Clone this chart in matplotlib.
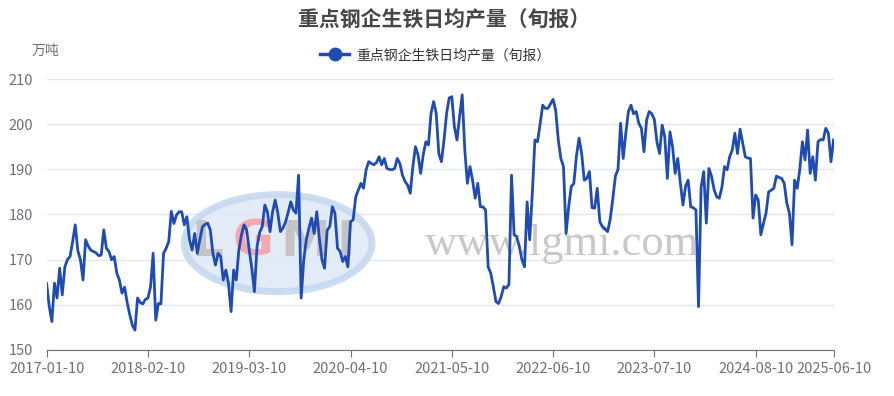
import matplotlib
matplotlib.use('Agg')
import matplotlib.pyplot as plt
from matplotlib.lines import Line2D
from matplotlib.patches import Ellipse
import numpy as np
import pandas as pd

plt.rcParams['font.family'] = ['Noto Sans CJK SC', 'DejaVu Sans']

title = '重点钢企生铁日均产量（旬报）'
series_name = '重点钢企生铁日均产量（旬报）'
unit = '万吨'

# 旬度数据, 2017-01-10 起
values = [
    164.7, 159.6, 156.3, 164.8, 161.5, 168.1, 162.2, 168.4, 170.0, 170.7,
    174.0, 177.7, 172.0, 170.0, 165.5, 174.4, 173.0, 172.1, 171.8, 171.5,
    170.9, 171.0, 176.6, 172.5, 171.8, 170.0, 170.7, 167.0, 165.5, 162.6,
    163.9, 160.5, 157.8, 155.5, 154.4, 161.5, 160.5, 160.2, 161.2, 161.5,
    164.0, 171.4, 156.6, 160.3, 160.2, 171.4, 172.5, 174.0, 180.7, 178.0,
    179.9, 180.6, 180.6, 177.7, 179.5, 174.4, 172.1, 175.8, 171.4, 174.5,
    177.3, 177.8, 178.1, 176.6, 171.4, 168.8, 171.4, 170.7, 165.5, 167.7,
    164.8, 158.5, 167.7, 165.5, 172.1, 175.5, 177.7, 176.6, 172.1, 168.0,
    162.9, 172.9, 176.0, 177.3, 182.1, 180.6, 176.2, 180.6, 183.2, 180.3,
    176.2, 177.0, 178.4, 180.5, 182.8, 181.0, 180.3, 188.7, 161.5, 170.0,
    174.5, 177.0, 179.2, 175.8, 180.6, 174.7, 170.0, 168.1, 176.5, 177.3,
    181.7, 180.3, 172.5, 171.8, 169.6, 170.7, 168.4, 178.4, 178.8, 183.9,
    185.4, 186.9, 185.8, 189.9, 191.7, 191.3, 191.0, 191.5, 192.8, 191.0,
    192.4, 190.2, 190.0, 189.9, 190.2, 192.4, 191.3, 188.7, 187.3, 186.5,
    184.7, 190.6, 195.0, 193.2, 189.1, 193.2, 196.1, 195.4, 202.4, 205.0,
    202.4, 193.5, 191.7, 196.5, 202.4, 205.8, 206.1, 199.4, 196.5, 201.7,
    206.5, 194.3, 186.9, 190.6, 187.6, 183.6, 186.9, 181.7, 181.7, 181.0,
    168.4, 167.0, 164.0, 160.7, 160.3, 161.8, 164.0, 163.7, 164.5, 188.7,
    175.5, 175.1, 172.9, 170.0, 168.4, 182.8, 174.4, 184.7, 196.5, 196.1,
    200.0, 204.2, 203.5, 203.5, 204.5, 205.5, 203.1, 196.5, 192.4, 190.6,
    175.8, 181.7, 186.2, 186.9, 193.0, 196.9, 193.5, 187.6, 188.0, 189.5,
    181.5, 181.4, 185.8, 178.4, 177.3, 176.8, 176.2, 179.0, 183.5, 188.5,
    190.0, 200.2, 192.4, 198.0, 202.8, 204.2, 202.3, 202.8, 200.2, 199.1,
    193.9, 200.9, 202.8, 202.3, 201.0, 196.0, 193.5, 199.8, 197.2, 188.0,
    198.3, 195.0, 189.1, 192.4, 187.0, 182.1, 186.2, 187.6, 181.7, 181.5,
    181.0, 159.6, 186.0, 189.5, 178.1, 190.2, 188.5, 185.5, 183.9, 183.6,
    186.0, 190.6, 189.9, 192.8, 194.3, 198.0, 193.5, 198.9, 195.8, 192.8,
    192.5, 192.4, 179.2, 184.3, 183.2, 175.5, 178.0, 180.3, 185.0, 185.4,
    185.8, 188.5, 188.2, 188.0, 186.9, 182.5, 180.3, 173.3, 187.6, 185.8,
    190.0, 196.1, 192.1, 198.7, 189.1, 192.8, 187.6, 196.1, 196.6, 196.5,
    199.1, 198.0, 191.7, 196.5,
]

tick_labels = ['2017-01-10', '2018-02-10', '2019-03-10', '2020-04-10', '2021-05-10',
               '2022-06-10', '2023-07-10', '2024-08-10', '2025-06-10']
yticks = [150, 160, 170, 180, 190, 200, 210]

# 上中下旬日期: 10日, 20日, 月末
months = pd.date_range('2017-01-01', periods=102, freq='MS')
dates = []
for m in months:
    dates += [m.replace(day=10), m.replace(day=20), m + pd.offsets.MonthEnd(0)]
dates = [d.strftime('%Y-%m-%d') for d in dates][:len(values)]

x = np.arange(len(values))
tick_pos = [dates.index(t) for t in tick_labels]

grey = '#6E7079'
blue = '#1f4bb5'

fig = plt.figure(figsize=(8.94, 3.96), dpi=100)
ax = fig.add_axes([0.0522, 0.1162, 0.8802, 0.6843])

# watermark
ax.add_patch(Ellipse((0.311, 0.386), 0.21, 0.245, transform=fig.transFigure,
                     facecolor='#dfe9f5', edgecolor='#c3d7ee', lw=5, alpha=0.85, zorder=1))
for ch, xp, c in [('L', 0.232, '#c4c4c4'), ('G', 0.283, '#f2a9b0'),
                  ('M', 0.341, '#c4c4c4'), ('I', 0.387, '#c4c4c4')]:
    ax.text(xp, 0.39, ch, transform=fig.transFigure, fontsize=36, fontweight='bold',
            color=c, ha='center', va='center', zorder=1, family='DejaVu Sans')
ax.text(0.629, 0.385, 'www.lgmi.com', transform=fig.transFigure, fontsize=32,
        family='Liberation Serif', color='#c8c8c8', ha='center', va='center', zorder=1)

ax.plot(x, values, color=blue, lw=2, zorder=3, solid_joinstyle='round')

ax.set_xlim(0, len(values) - 1)
ax.set_ylim(150, 210)
ax.set_yticks(yticks)
ax.set_xticks(tick_pos)
ax.set_xticklabels(tick_labels)
ax.yaxis.grid(True, color='#E0E6F1', lw=1)
ax.set_axisbelow(True)
for s in ['top', 'right', 'left']:
    ax.spines[s].set_visible(False)
ax.spines['bottom'].set_color(grey)
ax.tick_params(axis='x', colors=grey, length=5, labelsize=10.5, pad=4)
ax.tick_params(axis='y', colors=grey, length=0, labelsize=10.5, pad=10)

fig.text(0.497, 1 - 20 / 396, title, ha='center', va='center', fontsize=15,
         fontweight='bold', color='#464646')
fig.text(45 / 894, 1 - 51 / 396, unit, ha='center', va='center', fontsize=10, color=grey)

handle = Line2D([], [], color=blue, lw=2.5, marker='o', markersize=9)
fig.legend([handle], [series_name], loc='center', bbox_to_anchor=(0.487, 1 - 55 / 396),
           frameon=False, fontsize=10, handlelength=2.1, handletextpad=0.5,
           labelcolor='#333333')

fig.savefig('out.png', dpi=100)
